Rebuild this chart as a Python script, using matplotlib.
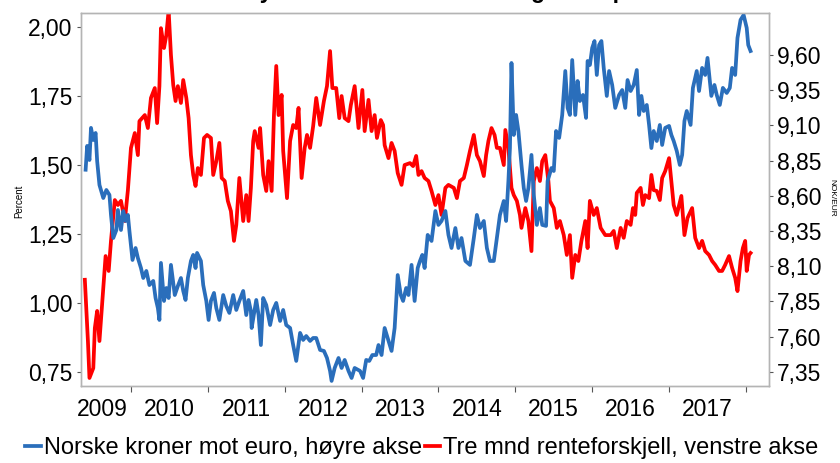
import matplotlib
matplotlib.use('Agg')
import matplotlib.pyplot as plt
from matplotlib.ticker import FuncFormatter

plt.rcParams['font.family'] = ['Liberation Sans', 'DejaVu Sans']

# Tre mnd renteforskjell (venstre akse, prosent)
red_year = [2009.40, 2009.44, 2009.46, 2009.51, 2009.53, 2009.56, 2009.59, 2009.64, 2009.67, 2009.71,
            2009.74, 2009.79, 2009.83, 2009.87, 2009.92, 2009.96, 2010.00, 2010.05, 2010.09, 2010.11,
            2010.18, 2010.22, 2010.26, 2010.31, 2010.34, 2010.37, 2010.39, 2010.43, 2010.46, 2010.49,
            2010.52, 2010.55, 2010.58, 2010.61, 2010.65, 2010.68, 2010.72, 2010.75, 2010.78, 2010.81,
            2010.84, 2010.87, 2010.91, 2010.95, 2010.99, 2011.04, 2011.07, 2011.11, 2011.15, 2011.18,
            2011.22, 2011.26, 2011.30, 2011.34, 2011.37, 2011.41, 2011.46, 2011.50, 2011.53, 2011.56,
            2011.59, 2011.61, 2011.66, 2011.68, 2011.72, 2011.76, 2011.79, 2011.83, 2011.86, 2011.89,
            2011.92, 2011.96, 2011.98, 2012.03, 2012.07, 2012.11, 2012.15, 2012.18, 2012.22, 2012.26,
            2012.29, 2012.33, 2012.37, 2012.41, 2012.46, 2012.51, 2012.55, 2012.59, 2012.62, 2012.67,
            2012.71, 2012.74, 2012.78, 2012.83, 2012.86, 2012.91, 2012.96, 2013.01, 2013.04, 2013.09,
            2013.13, 2013.17, 2013.20, 2013.25, 2013.28, 2013.30, 2013.35, 2013.39, 2013.43, 2013.47,
            2013.52, 2013.56, 2013.63, 2013.67, 2013.71, 2013.74, 2013.78, 2013.82, 2013.87, 2013.91,
            2013.96, 2014.00, 2014.04, 2014.09, 2014.13, 2014.20, 2014.24, 2014.28, 2014.33, 2014.37,
            2014.41, 2014.46, 2014.50, 2014.54, 2014.59, 2014.62, 2014.65, 2014.69, 2014.73, 2014.76,
            2014.80, 2014.85, 2014.87, 2014.91, 2014.95, 2014.98, 2015.02, 2015.06, 2015.08, 2015.13,
            2015.17, 2015.21, 2015.24, 2015.28, 2015.32, 2015.35, 2015.39, 2015.43, 2015.45, 2015.50,
            2015.54, 2015.58, 2015.63, 2015.67, 2015.71, 2015.74, 2015.78, 2015.82, 2015.86, 2015.91,
            2015.94, 2015.97, 2016.02, 2016.06, 2016.11, 2016.17, 2016.24, 2016.28, 2016.32, 2016.37,
            2016.41, 2016.45, 2016.50, 2016.53, 2016.56, 2016.58, 2016.63, 2016.66, 2016.69, 2016.74,
            2016.77, 2016.80, 2016.84, 2016.88, 2016.91, 2016.95, 2017.00, 2017.03, 2017.06, 2017.10,
            2017.16, 2017.20, 2017.24, 2017.30, 2017.34, 2017.39, 2017.43, 2017.47, 2017.52, 2017.56,
            2017.60, 2017.65, 2017.69, 2017.73, 2017.78, 2017.82, 2017.86, 2017.89, 2017.93, 2017.96,
            2017.99, 2018.01, 2018.04, 2018.06]
red_pct = [1.084, 0.862, 0.728, 0.764, 0.909, 0.971, 0.862, 1.054, 1.170, 1.116,
           1.225, 1.373, 1.355, 1.370, 1.297, 1.409, 1.562, 1.616, 1.536, 1.659,
           1.681, 1.634, 1.743, 1.779, 1.652, 1.786, 1.996, 1.924, 1.971, 2.060,
           1.899, 1.790, 1.732, 1.786, 1.725, 1.808, 1.743, 1.670, 1.536, 1.464,
           1.424, 1.489, 1.464, 1.598, 1.609, 1.598, 1.464, 1.514, 1.580, 1.453,
           1.442, 1.370, 1.333, 1.225, 1.283, 1.453, 1.297, 1.391, 1.297, 1.417,
           1.587, 1.623, 1.562, 1.634, 1.464, 1.406, 1.514, 1.406, 1.681, 1.859,
           1.681, 1.754, 1.551, 1.380, 1.587, 1.645, 1.634, 1.707, 1.453, 1.562,
           1.609, 1.562, 1.641, 1.743, 1.645, 1.732, 1.786, 1.913, 1.779, 1.779,
           1.670, 1.750, 1.670, 1.659, 1.717, 1.786, 1.634, 1.772, 1.623, 1.736,
           1.623, 1.681, 1.598, 1.663, 1.645, 1.572, 1.525, 1.580, 1.551, 1.471,
           1.428, 1.500, 1.507, 1.496, 1.533, 1.464, 1.478, 1.453, 1.442, 1.406,
           1.355, 1.391, 1.319, 1.417, 1.428, 1.417, 1.380, 1.442, 1.453, 1.500,
           1.551, 1.609, 1.536, 1.514, 1.460, 1.536, 1.587, 1.634, 1.609, 1.562,
           1.562, 1.500, 1.627, 1.562, 1.417, 1.391, 1.370, 1.319, 1.272, 1.344,
           1.297, 1.188, 1.442, 1.489, 1.442, 1.514, 1.536, 1.442, 1.370, 1.344,
           1.272, 1.297, 1.246, 1.174, 1.246, 1.091, 1.174, 1.152, 1.225, 1.297,
           1.199, 1.370, 1.319, 1.344, 1.272, 1.246, 1.246, 1.261, 1.199, 1.272,
           1.236, 1.297, 1.283, 1.344, 1.319, 1.399, 1.417, 1.355, 1.391, 1.380,
           1.464, 1.409, 1.406, 1.373, 1.453, 1.478, 1.525, 1.442, 1.355, 1.319,
           1.388, 1.246, 1.308, 1.344, 1.236, 1.199, 1.225, 1.188, 1.174, 1.152,
           1.138, 1.116, 1.116, 1.138, 1.170, 1.127, 1.091, 1.043, 1.152, 1.199,
           1.225, 1.116, 1.174, 1.181]

# Norske kroner mot euro (hoyre akse, NOK/EUR)
blue_year = [2009.41, 2009.43, 2009.46, 2009.48, 2009.51, 2009.54, 2009.56, 2009.59, 2009.64, 2009.68,
             2009.72, 2009.74, 2009.77, 2009.81, 2009.83, 2009.87, 2009.90, 2009.93, 2009.96, 2009.98,
             2010.02, 2010.06, 2010.09, 2010.13, 2010.16, 2010.20, 2010.24, 2010.29, 2010.32, 2010.35,
             2010.37, 2010.39, 2010.43, 2010.46, 2010.49, 2010.52, 2010.57, 2010.61, 2010.65, 2010.68,
             2010.71, 2010.74, 2010.78, 2010.81, 2010.84, 2010.86, 2010.91, 2010.94, 2010.98, 2011.01,
             2011.04, 2011.08, 2011.11, 2011.15, 2011.20, 2011.24, 2011.28, 2011.33, 2011.37, 2011.41,
             2011.46, 2011.50, 2011.53, 2011.56, 2011.57, 2011.63, 2011.66, 2011.69, 2011.72, 2011.76,
             2011.81, 2011.85, 2011.89, 2011.94, 2011.98, 2012.02, 2012.07, 2012.11, 2012.15, 2012.20,
             2012.24, 2012.28, 2012.33, 2012.37, 2012.41, 2012.46, 2012.51, 2012.55, 2012.59, 2012.61,
             2012.65, 2012.70, 2012.74, 2012.78, 2012.83, 2012.87, 2012.91, 2012.98, 2013.02, 2013.06,
             2013.10, 2013.14, 2013.19, 2013.22, 2013.26, 2013.30, 2013.35, 2013.39, 2013.43, 2013.47,
             2013.51, 2013.54, 2013.58, 2013.61, 2013.65, 2013.69, 2013.73, 2013.76, 2013.79, 2013.82,
             2013.86, 2013.91, 2013.96, 2014.00, 2014.04, 2014.09, 2014.13, 2014.17, 2014.22, 2014.26,
             2014.30, 2014.35, 2014.41, 2014.46, 2014.50, 2014.54, 2014.59, 2014.63, 2014.67, 2014.72,
             2014.76, 2014.80, 2014.85, 2014.88, 2014.91, 2014.93, 2014.95, 2014.98, 2015.01, 2015.04,
             2015.08, 2015.11, 2015.14, 2015.17, 2015.21, 2015.24, 2015.28, 2015.32, 2015.35, 2015.40,
             2015.42, 2015.47, 2015.50, 2015.53, 2015.57, 2015.61, 2015.65, 2015.68, 2015.71, 2015.74,
             2015.78, 2015.81, 2015.84, 2015.88, 2015.92, 2015.94, 2015.97, 2016.00, 2016.03, 2016.06,
             2016.09, 2016.12, 2016.15, 2016.19, 2016.22, 2016.26, 2016.30, 2016.35, 2016.39, 2016.43,
             2016.46, 2016.50, 2016.54, 2016.58, 2016.61, 2016.64, 2016.67, 2016.71, 2016.74, 2016.77,
             2016.80, 2016.84, 2016.88, 2016.91, 2016.95, 2017.00, 2017.03, 2017.06, 2017.10, 2017.14,
             2017.17, 2017.20, 2017.23, 2017.28, 2017.31, 2017.36, 2017.39, 2017.43, 2017.47, 2017.50,
             2017.55, 2017.59, 2017.62, 2017.66, 2017.70, 2017.75, 2017.79, 2017.82, 2017.86, 2017.89,
             2017.93, 2017.97, 2018.01, 2018.03, 2018.06]
blue_nok = [8.785, 8.954, 8.854, 9.082, 8.996, 9.046, 8.847, 8.677, 8.584, 8.641,
            8.606, 8.464, 8.300, 8.357, 8.499, 8.357, 8.492, 8.421, 8.464, 8.350,
            8.144, 8.229, 8.158, 8.087, 8.016, 8.066, 7.966, 7.995, 7.874, 7.803,
            7.718, 8.123, 7.853, 7.945, 7.874, 8.109, 7.895, 7.959, 8.016, 7.924,
            7.860, 8.016, 8.137, 8.180, 8.087, 8.194, 8.137, 7.966, 7.853, 7.718,
            7.853, 7.910, 7.803, 7.718, 7.895, 7.817, 7.768, 7.895, 7.789, 7.853,
            7.924, 7.753, 7.860, 7.782, 7.661, 7.860, 7.753, 7.540, 7.874, 7.824,
            7.682, 7.789, 7.839, 7.711, 7.789, 7.682, 7.661, 7.540, 7.427, 7.626,
            7.576, 7.604, 7.569, 7.590, 7.590, 7.505, 7.498, 7.448, 7.356, 7.285,
            7.377, 7.448, 7.377, 7.434, 7.356, 7.306, 7.377, 7.356, 7.306, 7.434,
            7.427, 7.469, 7.469, 7.540, 7.469, 7.661, 7.569, 7.498, 7.661, 8.037,
            7.895, 7.853, 7.945, 7.895, 8.109, 7.853, 8.087, 8.137, 8.180, 8.087,
            8.322, 8.279, 8.492, 8.393, 8.421, 8.492, 8.322, 8.229, 8.371, 8.229,
            8.300, 8.137, 8.109, 8.300, 8.464, 8.371, 8.421, 8.229, 8.137, 8.137,
            8.300, 8.464, 8.563, 8.421, 8.705, 8.939, 9.543, 9.032, 9.174, 9.060,
            8.819, 8.655, 8.563, 8.655, 8.890, 8.606, 8.393, 8.513, 8.393, 8.386,
            8.705, 8.797, 8.776, 9.060, 9.011, 9.174, 9.486, 9.224, 9.174, 9.564,
            9.174, 9.415, 9.273, 9.316, 9.153, 9.557, 9.529, 9.650, 9.699, 9.458,
            9.671, 9.699, 9.508, 9.309, 9.486, 9.387, 9.224, 9.316, 9.351, 9.224,
            9.422, 9.344, 9.387, 9.493, 9.174, 9.309, 9.202, 9.245, 9.103, 8.939,
            9.060, 8.989, 9.103, 8.961, 9.082, 9.096, 9.032, 8.989, 8.918, 8.819,
            8.890, 9.131, 9.202, 9.103, 9.366, 9.486, 9.344, 9.508, 9.458, 9.579,
            9.309, 9.387, 9.316, 9.245, 9.366, 9.330, 9.366, 9.508, 9.458, 9.721,
            9.849, 9.884, 9.792, 9.671, 9.628]

year_ticks = [2010, 2011, 2012, 2013, 2014, 2015, 2016, 2017, 2018]
year_label_pos = [2009.63, 2010.5, 2011.5, 2012.5, 2013.5, 2014.5, 2015.5, 2016.5, 2017.5]
year_labels = ['2009', '2010', '2011', '2012', '2013', '2014', '2015', '2016', '2017']
pct_ticks = [0.75, 1.00, 1.25, 1.50, 1.75, 2.00]
nok_ticks = [7.35, 7.60, 7.85, 8.10, 8.35, 8.60, 8.85, 9.10, 9.35, 9.60]

BLUE = '#2a6ebb'
RED = '#ff0000'
SPINE = '#b4b4b4'
TICK = '#555555'

comma = FuncFormatter(lambda v, pos: ('%.2f' % v).replace('.', ','))

fig = plt.figure(figsize=(8.4, 4.63), dpi=100)
ax1 = fig.add_axes([81 / 840, 1 - 386 / 463, 688 / 840, 373 / 463])
ax2 = ax1.twinx()

red_line, = ax1.plot(red_year, red_pct, color=RED, lw=2.7,
                     label='Tre mnd renteforskjell, venstre akse')
blue_line, = ax2.plot(blue_year, blue_nok, color=BLUE, lw=2.7,
                      label='Norske kroner mot euro, høyre akse')

ax1.set_xlim(2009.35, 2018.30)
ax1.set_ylim(0.699, 2.051)
ax2.set_ylim(7.249, 9.898)

ax1.set_xticks(year_ticks)
ax1.set_xticklabels([''] * len(year_ticks))
ax1.set_xticks(year_label_pos, minor=True)
ax1.set_xticklabels(year_labels, minor=True)
ax1.tick_params(axis='x', which='major', length=4, width=0.8, color=TICK)
ax1.tick_params(axis='x', which='minor', length=0, pad=9, labelsize=16.5)

ax1.set_yticks(pct_ticks)
ax1.yaxis.set_major_formatter(comma)
ax1.tick_params(axis='y', length=3, width=0.8, color=TICK, pad=3, labelsize=16.5)
ax2.set_yticks(nok_ticks)
ax2.yaxis.set_major_formatter(comma)
ax2.tick_params(axis='y', length=3, width=0.8, color=TICK, pad=3, labelsize=16.5)

for ax in (ax1, ax2):
    for s in ax.spines.values():
        s.set_color(SPINE)
        s.set_linewidth(1.0)

fig.text(19 / 840, 1 - 201 / 463, 'Percent', rotation=90, ha='center', va='center', fontsize=7)
fig.text(832 / 840, 1 - 198 / 463, 'NOK/EUR', rotation=270, ha='center', va='center', fontsize=6)

# title sits mostly above the canvas, only descenders are visible
fig.text(153 / 840, 1 + 2 / 463, 'Kronen styres av rentedifferanse og risikopremie',
         ha='left', va='baseline', fontsize=16.6, fontweight='bold')

fig.legend([blue_line, red_line],
           ['Norske kroner mot euro, høyre akse', 'Tre mnd renteforskjell, venstre akse'],
           loc='center', bbox_to_anchor=(0.502, 1 - 448 / 463), ncol=2, frameon=False,
           fontsize=17, handlelength=0.65, handletextpad=0.12, columnspacing=0.12,
           borderpad=0, borderaxespad=0)

fig.savefig('out.png', dpi=100)
plt.close()
